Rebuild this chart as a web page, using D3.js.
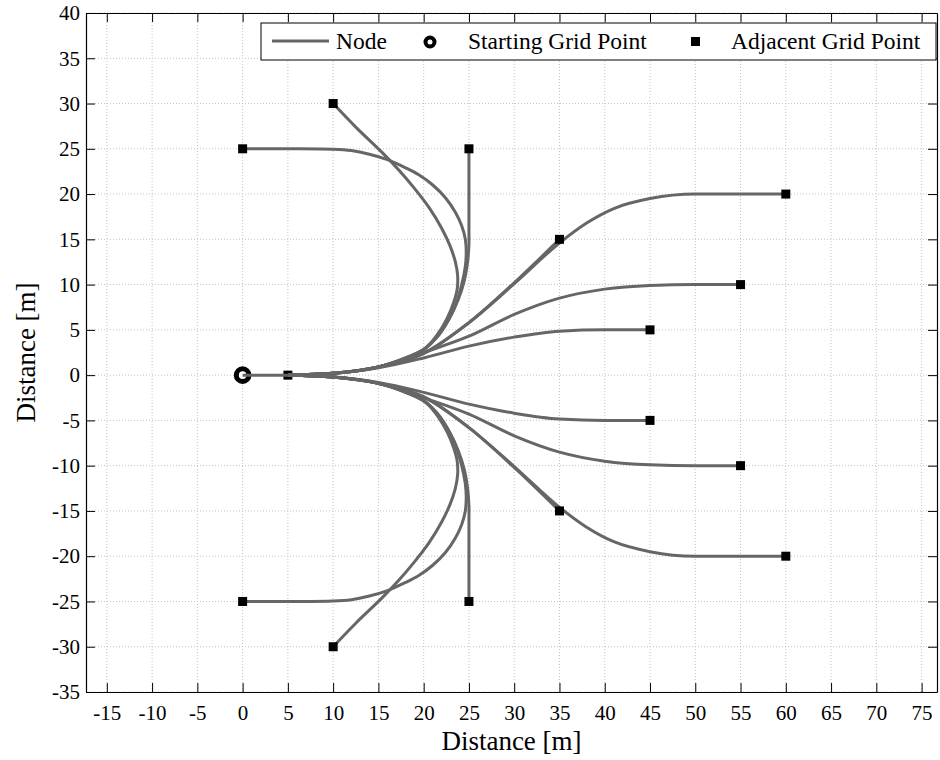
<!DOCTYPE html>
<html>
<head>
<meta charset="utf-8">
<script src="https://cdn.jsdelivr.net/npm/d3@7"></script>
<style>
  body { margin: 0; background: #fff; }
  text { font-family: "Liberation Serif", "Times New Roman", serif; fill: #000; }
</style>
</head>
<body>
<div id="chart"></div>
<script>
// tick values
var xTicks = [-15, -10, -5, 0, 5, 10, 15, 20, 25, 30, 35, 40, 45, 50, 55, 60, 65, 70, 75];
var yTicks = [-35, -30, -25, -20, -15, -10, -5, 0, 5, 10, 15, 20, 25, 30, 35, 40];

// start point and first node
var startPoint = [0, 0];
var firstNode = [5, 0];

// end points of the node curves (adjacent grid points)
var adjacent = [
  [0, 25], [10, 30], [25, 25], [35, 15], [60, 20], [55, 10], [45, 5],
  [0, -25], [10, -30], [25, -25], [35, -15], [60, -20], [55, -10], [45, -5]
];

// waypoints
var straight = [[0, 0], [5, 0]];
// loops bending back (not monotone in x)
var toA = [[5, 0], [10, 0.2], [15, 0.9], [18, 1.8], [20, 2.8], [21.5, 4.2], [22.7, 6], [23.6, 8], [24.2, 10],
  [24.6, 12], [24.7, 13.5], [24.6, 15], [24.2, 16.5], [23.5, 18], [22.4, 19.6], [21, 21], [19.5, 22.1],
  [18, 22.9], [16, 23.8], [14, 24.4], [12, 24.8], [10, 24.95], [5, 25], [0, 25]];
var toB = [[5, 0], [10, 0.2], [15, 0.9], [18, 1.9], [20.2, 3], [21.6, 4.6], [22.6, 6.3], [23.3, 8],
  [23.7, 9.5], [23.75, 11], [23.5, 12.5], [22.9, 14.3], [22, 16.2], [20.6, 18.5], [19, 20.6], [17.3, 22.6],
  [15.4, 24.6], [12.5, 27.4], [10, 30]];
var toC = [[5, 0], [10, 0.2], [15, 0.9], [18, 1.9], [20, 2.8], [21.5, 4.3], [22.8, 6.2], [23.8, 8.3],
  [24.5, 10.5], [24.85, 12.5], [25, 14.5], [25, 16], [25, 25]];
var toAn = [[5, 0], [10, -0.2], [15, -0.9], [18, -1.8], [20, -2.8], [21.5, -4.2], [22.7, -6], [23.6, -8], [24.2, -10],
  [24.6, -12], [24.7, -13.5], [24.6, -15], [24.2, -16.5], [23.5, -18], [22.4, -19.6], [21, -21], [19.5, -22.1],
  [18, -22.9], [16, -23.8], [14, -24.4], [12, -24.8], [10, -24.95], [5, -25], [0, -25]];
var toBn = [[5, 0], [10, -0.2], [15, -0.9], [18, -1.9], [20.2, -3], [21.6, -4.6], [22.6, -6.3], [23.3, -8],
  [23.7, -9.5], [23.75, -11], [23.5, -12.5], [22.9, -14.3], [22, -16.2], [20.6, -18.5], [19, -20.6], [17.3, -22.6],
  [15.4, -24.6], [12.5, -27.4], [10, -30]];
var toCn = [[5, 0], [10, -0.2], [15, -0.9], [18, -1.9], [20, -2.8], [21.5, -4.3], [22.8, -6.2], [23.8, -8.3],
  [24.5, -10.5], [24.85, -12.5], [25, -14.5], [25, -16], [25, -25]];

// fan curves going right (monotone in x)
var toD = [[5, 0], [10, 0.2], [15, 0.9], [20, 2.4], [25, 5.8], [30, 10.2], [35, 15]];
var toE = [[5, 0], [10, 0.2], [15, 0.9], [20, 2.4], [25, 5.8], [30, 10.1], [35, 14.6], [38, 16.8],
  [41, 18.4], [45, 19.5], [50, 20], [60, 20]];
var toF = [[5, 0], [10, 0.2], [15, 0.9], [20, 2.5], [25, 4.3], [30, 6.7], [35, 8.5], [40, 9.5],
  [45, 9.9], [50, 10], [55, 10]];
var toG = [[5, 0], [10, 0.2], [15, 0.8], [20, 1.9], [25, 3.2], [30, 4.2], [35, 4.85], [40, 5], [45, 5]];
var toDn = [[5, 0], [10, -0.2], [15, -0.9], [20, -2.4], [25, -5.8], [30, -10.2], [35, -15]];
var toEn = [[5, 0], [10, -0.2], [15, -0.9], [20, -2.4], [25, -5.8], [30, -10.1], [35, -14.6], [38, -16.8],
  [41, -18.4], [45, -19.5], [50, -20], [60, -20]];
var toFn = [[5, 0], [10, -0.2], [15, -0.9], [20, -2.5], [25, -4.3], [30, -6.7], [35, -8.5], [40, -9.5],
  [45, -9.9], [50, -10], [55, -10]];
var toGn = [[5, 0], [10, -0.2], [15, -0.8], [20, -1.9], [25, -3.2], [30, -4.2], [35, -4.85], [40, -5], [45, -5]];

var loopCurves = [toA, toB, toC, toAn, toBn, toCn];
var fanCurves = [toD, toE, toF, toG, toDn, toEn, toFn, toGn];

var legendLabels = ["Node", "Starting Grid Point", "Adjacent Grid Point"];

var width = 940, height = 760;
var lineColor = "#666666";
var serif = '"Liberation Serif", "Times New Roman", serif';

var svg = d3.select("#chart").append("svg")
    .attr("width", width)
    .attr("height", height);

var x = d3.scaleLinear().domain([-17.3, 76.7]).range([86, 937]);
var y = d3.scaleLinear().domain([-35, 40]).range([692, 13]);

// grid
svg.append("g").selectAll("line").data(xTicks).enter().append("line")
    .attr("x1", function(d) { return x(d); })
    .attr("x2", function(d) { return x(d); })
    .attr("y1", y(-35)).attr("y2", y(40))
    .attr("stroke", "#c4c4c4").attr("stroke-width", 1)
    .attr("stroke-dasharray", "1,2");
svg.append("g").selectAll("line").data(yTicks).enter().append("line")
    .attr("y1", function(d) { return y(d); })
    .attr("y2", function(d) { return y(d); })
    .attr("x1", x.range()[0]).attr("x2", x.range()[1])
    .attr("stroke", "#c4c4c4").attr("stroke-width", 1)
    .attr("stroke-dasharray", "1,2");

// axes (box style: ticks inside on all four sides)
function plain(d) { return String(d); }
function styleAxis(g) {
  g.attr("font-family", null).attr("font-size", null);
  g.select(".domain").attr("stroke", "#000").attr("stroke-width", 1.2);
  g.selectAll(".tick line").attr("stroke", "#000");
  g.selectAll(".tick text")
      .style("font-family", serif)
      .style("font-size", "21px");
}
svg.append("g").attr("transform", "translate(0," + y(-35) + ")")
    .call(d3.axisBottom(x).tickValues(xTicks).tickSizeInner(-9).tickSizeOuter(0).tickPadding(13).tickFormat(plain))
    .call(styleAxis);
svg.append("g").attr("transform", "translate(0," + y(40) + ")")
    .call(d3.axisTop(x).tickValues(xTicks).tickSizeInner(-9).tickSizeOuter(0).tickFormat(""))
    .call(styleAxis);
svg.append("g").attr("transform", "translate(" + x.range()[0] + ",0)")
    .call(d3.axisLeft(y).tickValues(yTicks).tickSizeInner(-9).tickSizeOuter(0).tickPadding(6).tickFormat(plain))
    .call(styleAxis);
svg.append("g").attr("transform", "translate(" + x.range()[1] + ",0)")
    .call(d3.axisRight(y).tickValues(yTicks).tickSizeInner(-9).tickSizeOuter(0).tickFormat(""))
    .call(styleAxis);

// axis labels
svg.append("text")
    .attr("x", (x.range()[0] + x.range()[1]) / 2)
    .attr("y", 750)
    .attr("text-anchor", "middle")
    .style("font-size", "27px")
    .text("Distance [m]");
svg.append("text")
    .attr("transform", "translate(35," + y(2.5) + ") rotate(-90)")
    .attr("text-anchor", "middle")
    .style("font-size", "27px")
    .text("Distance [m]");

// markers drawn under the lines
svg.append("circle")
    .attr("cx", x(startPoint[0])).attr("cy", y(startPoint[1]))
    .attr("r", 6.3)
    .attr("fill", "#fff").attr("stroke", "#000").attr("stroke-width", 5);
svg.append("rect")
    .attr("x", x(firstNode[0]) - 4.5).attr("y", y(firstNode[1]) - 4.5)
    .attr("width", 9).attr("height", 9)
    .attr("fill", "#000");

var loopLine = d3.line()
    .x(function(d) { return x(d[0]); })
    .y(function(d) { return y(d[1]); })
    .curve(d3.curveCatmullRom.alpha(0.5));
var fanLine = d3.line()
    .x(function(d) { return x(d[0]); })
    .y(function(d) { return y(d[1]); })
    .curve(d3.curveMonotoneX);

svg.append("path")
    .attr("d", fanLine(straight))
    .attr("fill", "none").attr("stroke", lineColor).attr("stroke-width", 3);

svg.append("g").selectAll("path").data(loopCurves).enter().append("path")
    .attr("d", loopLine)
    .attr("fill", "none")
    .attr("stroke", lineColor)
    .attr("stroke-width", 3);
svg.append("g").selectAll("path").data(fanCurves).enter().append("path")
    .attr("d", fanLine)
    .attr("fill", "none")
    .attr("stroke", lineColor)
    .attr("stroke-width", 3);

svg.append("g").selectAll("rect").data(adjacent).enter().append("rect")
    .attr("x", function(d) { return x(d[0]) - 4.5; })
    .attr("y", function(d) { return y(d[1]) - 4.5; })
    .attr("width", 9).attr("height", 9)
    .attr("fill", "#000");

// legend
var lg = svg.append("g");
lg.append("rect")
    .attr("x", 261).attr("y", 23).attr("width", 675).attr("height", 37)
    .attr("fill", "#fff").attr("stroke", "#000").attr("stroke-width", 1);
lg.append("line")
    .attr("x1", 272).attr("x2", 329).attr("y1", 41).attr("y2", 41)
    .attr("stroke", lineColor).attr("stroke-width", 3);
lg.append("circle")
    .attr("cx", 430).attr("cy", 42).attr("r", 4.5)
    .attr("fill", "#fff").attr("stroke", "#000").attr("stroke-width", 4);
lg.append("rect")
    .attr("x", 691).attr("y", 37).attr("width", 9).attr("height", 9)
    .attr("fill", "#000");
var legendX = [336, 468, 731];
lg.selectAll("text").data(legendLabels).enter().append("text")
    .attr("x", function(d, i) { return legendX[i]; })
    .attr("y", 49)
    .style("font-size", "23.5px")
    .text(function(d) { return d; });
</script>
</body>
</html>
